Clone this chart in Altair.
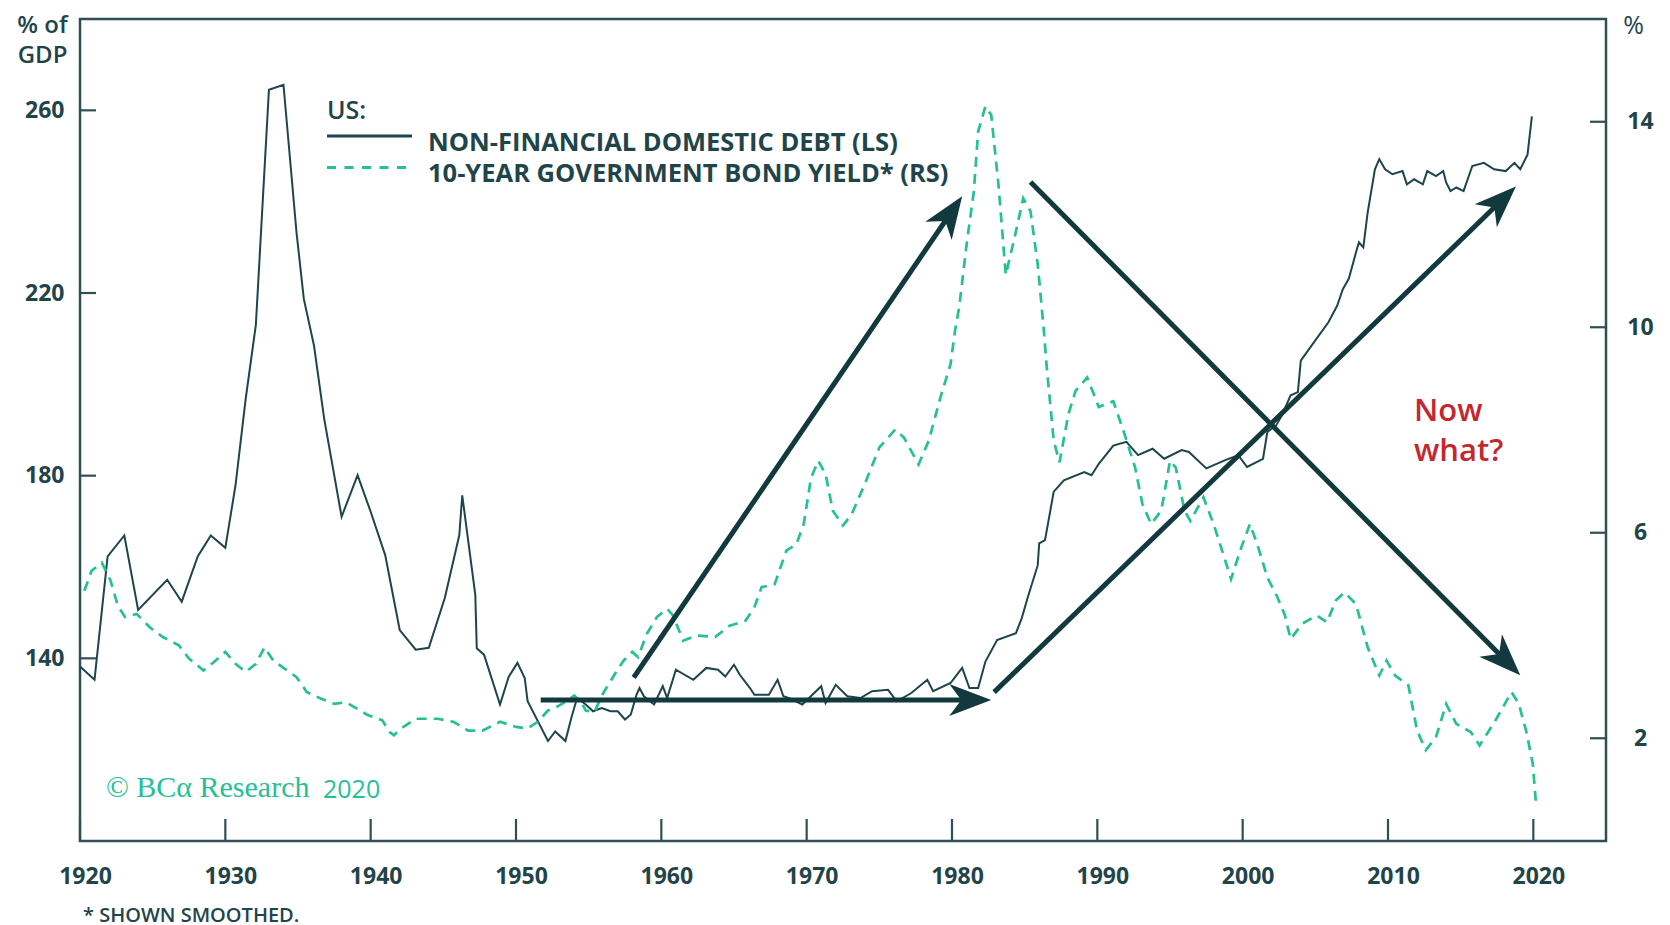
import math
import altair as alt
import pandas as pd

# ---------------- data ----------------
debt_year = [1920.0, 1921.0, 1921.9, 1923.05, 1924.0, 1926.0, 1927.0, 1928.1, 1929.0, 1930.0,
             1930.7, 1931.4, 1932.1, 1933.0, 1934.0, 1934.9, 1935.4, 1936.1, 1936.8, 1938.0,
             1939.1, 1940.0, 1941.0, 1942.0, 1943.1, 1944.0, 1945.1, 1946.1, 1946.3, 1947.2,
             1947.3, 1947.8, 1948.9, 1949.5, 1950.1, 1950.6, 1950.8, 1952.2, 1952.7, 1953.4,
             1953.8, 1954.2, 1954.8, 1955.3, 1955.9, 1956.5, 1957.0, 1957.5, 1957.9, 1958.3,
             1958.5, 1958.8, 1959.5, 1960.1, 1960.4, 1961.0, 1962.2, 1963.1, 1963.9, 1964.4,
             1965.0, 1965.4, 1966.1, 1966.4, 1967.4, 1968.0, 1968.4, 1968.8, 1969.7, 1971.0,
             1971.3, 1972.0, 1972.8, 1973.7, 1974.5, 1975.6, 1976.2, 1977.2, 1978.3, 1978.7,
             1979.9, 1980.7, 1981.2, 1981.8, 1982.3, 1983.1, 1984.4, 1984.8, 1985.2, 1985.9,
             1986.0, 1986.4, 1987.0, 1987.7, 1989.1, 1989.6, 1990.1, 1991.1, 1992.0, 1992.8,
             1993.8, 1994.6, 1995.8, 1996.3, 1997.5, 1998.8, 1999.7, 2000.3, 2001.4, 2001.7,
             2002.3, 2002.7, 2003.3, 2003.8, 2004.0, 2004.9, 2005.9, 2006.5, 2006.9, 2007.3,
             2007.8, 2008.0, 2008.3, 2008.6, 2009.1, 2009.4, 2009.8, 2010.3, 2011.0, 2011.3,
             2011.8, 2012.4, 2012.7, 2013.3, 2013.8, 2014.0, 2014.3, 2014.7, 2015.2, 2015.8,
             2016.6, 2017.3, 2018.1, 2018.7, 2019.1, 2019.6, 2019.9]
debt_value = [138.2, 135.3, 162.3, 166.9, 150.6, 157.2, 152.4, 162.3, 166.9, 164.2,
              177.9, 196.8, 213.0, 264.5, 265.6, 233.2, 218.7, 208.5, 192.5, 171.0,
              180.1, 172.1, 162.6, 146.2, 141.9, 142.3, 153.2, 167.0, 175.7, 153.9,
              142.2, 140.8, 129.9, 136.0, 139.0, 135.7, 130.6, 121.9, 124.0, 121.9,
              126.9, 131.3, 129.9, 128.4, 129.1, 128.4, 128.4, 126.6, 127.7, 132.1,
              133.5, 131.7, 129.9, 133.9, 131.3, 137.5, 135.3, 137.9, 137.5, 136.0,
              138.6, 136.4, 133.5, 132.0, 132.0, 135.3, 131.7, 131.3, 129.9, 133.9,
              130.2, 134.2, 131.7, 131.3, 132.8, 133.1, 130.6, 132.4, 135.3, 132.8,
              134.6, 137.9, 133.5, 133.5, 139.3, 144.0, 145.5, 148.8, 153.2, 160.4,
              165.2, 165.9, 176.5, 179.0, 180.8, 180.1, 182.6, 186.6, 187.4, 184.5,
              185.9, 183.7, 185.6, 185.2, 181.6, 183.4, 184.5, 181.9, 183.7, 189.6,
              191.0, 193.2, 197.6, 198.3, 205.2, 209.2, 213.6, 217.2, 220.9, 223.1,
              228.9, 231.1, 230.0, 237.6, 247.1, 249.3, 247.1, 246.0, 246.7, 243.8,
              244.9, 243.8, 246.7, 245.6, 246.7, 244.2, 242.3, 243.1, 242.3, 247.8,
              248.5, 247.1, 246.7, 248.5, 247.1, 250.3, 258.7]

yield_year = [1920.3, 1920.8, 1921.5, 1922.1, 1922.6, 1923.1, 1923.9, 1924.8, 1925.7, 1926.8,
              1927.5, 1928.5, 1929.2, 1930.0, 1930.7, 1931.4, 1932.1, 1932.7, 1933.3, 1934.1,
              1934.9, 1935.6, 1936.6, 1937.5, 1938.3, 1939.1, 1939.8, 1940.8, 1941.3, 1941.6,
              1942.1, 1943.1, 1944.6, 1945.7, 1946.7, 1947.7, 1948.9, 1950.0, 1950.8, 1951.5,
              1952.2, 1952.6, 1953.6, 1954.0, 1954.5, 1954.8, 1955.4, 1955.9, 1956.8, 1957.4,
              1958.0, 1958.4, 1959.0, 1959.7, 1960.4, 1960.8, 1961.5, 1962.4, 1963.7, 1964.7,
              1965.8, 1966.4, 1966.9, 1967.8, 1968.6, 1969.3, 1969.8, 1970.3, 1970.8, 1971.3,
              1971.8, 1972.5, 1973.1, 1974.0, 1975.0, 1976.1, 1976.7, 1977.7, 1978.4, 1979.2,
              1979.9, 1980.2, 1980.5, 1981.0, 1981.5, 1981.8, 1982.3, 1982.7, 1983.2, 1983.7,
              1984.3, 1984.9, 1985.4, 1985.9, 1986.3, 1986.5, 1987.0, 1987.4, 1988.0, 1988.5,
              1989.3, 1990.1, 1991.1, 1991.8, 1992.6, 1993.1, 1993.7, 1994.4, 1995.0, 1995.4,
              1996.0, 1996.4, 1997.3, 1998.0, 1998.8, 1999.2, 1999.9, 2000.5, 2001.0, 2001.7,
              2002.4, 2002.9, 2003.3, 2004.1, 2005.1, 2005.8, 2006.4, 2007.0, 2007.8, 2008.6,
              2009.4, 2009.9, 2010.5, 2011.4, 2012.0, 2012.6, 2013.3, 2014.0, 2014.7, 2015.7,
              2016.3, 2017.4, 2018.5, 2019.0, 2019.5, 2019.96, 2020.2]
yield_value = [4.87, 5.26, 5.42, 5.07, 4.58, 4.36, 4.42, 4.16, 3.97, 3.81,
               3.55, 3.32, 3.48, 3.68, 3.45, 3.29, 3.45, 3.77, 3.51, 3.35,
               3.19, 2.90, 2.77, 2.67, 2.70, 2.57, 2.45, 2.35, 2.12, 2.06,
               2.19, 2.38, 2.38, 2.32, 2.15, 2.15, 2.32, 2.22, 2.19, 2.32,
               2.54, 2.58, 2.74, 2.83, 2.70, 2.54, 2.51, 2.83, 3.25, 3.51,
               3.68, 3.58, 4.03, 4.36, 4.52, 4.39, 3.90, 4.00, 3.97, 4.19,
               4.29, 4.55, 4.94, 5.00, 5.65, 5.78, 6.17, 7.07, 7.40, 7.14,
               6.43, 6.14, 6.36, 6.95, 7.66, 8.01, 7.85, 7.33, 7.79, 8.63,
               9.28, 9.92, 10.40, 11.60, 12.64, 13.81, 14.30, 14.13, 12.77, 11.02,
               11.74, 12.51, 12.26, 11.22, 10.00, 9.28, 7.79, 7.37, 8.30, 8.76,
               9.02, 8.45, 8.56, 7.98, 7.27, 6.56, 6.17, 6.43, 7.40, 7.27,
               6.43, 6.23, 6.69, 6.17, 5.46, 5.10, 5.71, 6.17, 5.78, 5.13,
               4.74, 4.40, 3.93, 4.23, 4.39, 4.26, 4.68, 4.84, 4.61, 3.77,
               3.22, 3.51, 3.22, 3.03, 2.15, 1.77, 2.02, 2.67, 2.28, 2.12,
               1.86, 2.35, 2.90, 2.67, 2.15, 1.51, 0.66]

x_ticks = [1920, 1930, 1940, 1950, 1960, 1970, 1980, 1990, 2000, 2010, 2020]
left_ticks = [140, 180, 220, 260]
right_ticks = [2, 6, 10, 14]

# annotation arrows (year, left-axis value)
arrow_x0 = [1951.7, 1958.1, 1985.4, 1982.9]
arrow_y0 = [130.9, 135.8, 244.3, 132.6]
arrow_x1 = [1982.7, 1980.7, 2019.1, 2018.8]
arrow_y1 = [130.9, 241.2, 136.3, 243.3]

legend_title = "US:"
series_labels = ["NON-FINANCIAL DOMESTIC DEBT (LS)", "10-YEAR GOVERNMENT BOND YIELD* (RS)"]
left_title = ["% of", "GDP"]
right_title = "%"
now_what = ["Now", "what?"]
copyright_a = "© BCα Research"
copyright_b = "2020"
footnote = "* SHOWN SMOOTHED."

# ---------------- style ----------------
W, H = 1526, 822
X_DOM, YL_DOM, YR_DOM = [1920, 2025], [100, 280], [0, 16]
DARK = "#12393e"
TEXT = "#1f454b"
LINE_DARK = "#1d454b"
FRAME = "#2d4f55"
GREEN = "#26c095"
RED = "#c4272d"
FONT = "Open Sans"

xscale = alt.Scale(domain=X_DOM, nice=False, zero=False)
ylscale = alt.Scale(domain=YL_DOM, nice=False, zero=False)
yrscale = alt.Scale(domain=YR_DOM, nice=False, zero=False)

common_axis = dict(ticks=False, domain=False, grid=False,
                   labelFont=FONT, labelFontSize=23, labelFontWeight=700, labelColor=TEXT,
                   titleFont=FONT, titleColor=TEXT)

xaxis = alt.Axis(values=x_ticks, format="d", title=None, labelPadding=35,
                 labelBaseline="middle", labelOffset=5, labelFlush=False,
                 labelOverlap=False, **common_axis)
ylaxis = alt.Axis(orient="left", values=left_ticks, title=left_title, titleAngle=0,
                  titleAlign="center", titleBaseline="top", titleX=-38, titleY=-6,
                  titleFontSize=24, titleFontWeight=600, titleLineHeight=30,
                  labelPadding=16, **common_axis)
yraxis = alt.Axis(orient="right", values=right_ticks, title=right_title, titleAngle=0,
                  titleAlign="center", titleBaseline="top", titleX=27, titleY=-6,
                  titleFontSize=25, titleFontWeight=400, labelAlign="center",
                  labelPadding=34, **common_axis)

# ---------------- tables ----------------
debt_df = pd.DataFrame({"year": debt_year, "value": debt_value})
yield_df = pd.DataFrame({"year": yield_year, "value": yield_value})
xt_df = pd.DataFrame({"year": x_ticks})
lt_df = pd.DataFrame({"value": left_ticks})
rt_df = pd.DataFrame({"value": right_ticks})

pxx = W / (X_DOM[1] - X_DOM[0])
pxy = H / (YL_DOM[1] - YL_DOM[0])
rows = []
for x0, y0, x1, y1 in zip(arrow_x0, arrow_y0, arrow_x1, arrow_y1):
    dx = (x1 - x0) * pxx
    dy = (y1 - y0) * pxy
    L = math.hypot(dx, dy)
    f = 24.0 / L
    rows.append({"year": x0, "y0": y0, "x1": x1, "y1": y1,
                 "xe": x1 - (x1 - x0) * f, "ye": y1 - (y1 - y0) * f,
                 "ang": math.degrees(math.atan2(dx, dy))})
arrow_df = pd.DataFrame(rows)
one = pd.DataFrame({"k": [0]})


def X(field):
    # every layer carries the same x axis definition so that they merge cleanly
    return alt.X(field, scale=xscale, axis=xaxis)


# ---------------- marks ----------------
debt = alt.Chart(debt_df).mark_line(color=LINE_DARK, strokeWidth=2).encode(
    x=X("year:Q"),
    y=alt.Y("value:Q", scale=ylscale, axis=ylaxis))

yld = alt.Chart(yield_df).mark_line(color=GREEN, strokeWidth=2.7, strokeDash=[10, 7]).encode(
    x=X("year:Q"),
    y=alt.Y("value:Q", scale=yrscale, axis=yraxis))

x_tick_marks = alt.Chart(xt_df).mark_rule(color=FRAME, strokeWidth=2.2).encode(
    x=X("year:Q"),
    y=alt.value(H), y2=alt.value(H - 22))

l_tick_marks = alt.Chart(lt_df).mark_rule(color=FRAME, strokeWidth=2.2).encode(
    y=alt.Y("value:Q", scale=ylscale, axis=None),
    x=alt.value(0), x2=alt.value(16))

r_tick_marks = alt.Chart(rt_df).mark_rule(color=FRAME, strokeWidth=2.2).encode(
    y=alt.Y("value:Q", scale=yrscale, axis=None),
    x=alt.value(W - 16), x2=alt.value(W))

arrow_lines = alt.Chart(arrow_df).mark_rule(color=DARK, strokeWidth=5, strokeCap="butt").encode(
    x=X("year:Q"), x2="xe:Q",
    y=alt.Y("y0:Q", scale=ylscale, axis=None), y2="ye:Q")

HEAD = "M0,0L0.8,2.1L0,1.5L-0.8,2.1Z"
arrow_heads = alt.Chart(arrow_df).mark_point(
    shape=HEAD, size=1600, filled=True, color=DARK, opacity=1, strokeWidth=0).encode(
    x=alt.X("x1:Q", scale=xscale, axis=xaxis),
    y=alt.Y("y1:Q", scale=ylscale, axis=None),
    angle=alt.Angle("ang:Q", scale=None))


def txt(text, x, y, size, color=TEXT, weight=600, font=FONT, align="left",
        baseline="middle", line_height=None):
    kw = dict(font=font, fontSize=size, fontWeight=weight, color=color,
              align=align, baseline=baseline)
    if line_height is not None:
        kw["lineHeight"] = line_height
    return alt.Chart(one).mark_text(**kw).encode(
        x=alt.value(x), y=alt.value(y), text=alt.value(text))


leg_solid = alt.Chart(one).mark_rule(color=LINE_DARK, strokeWidth=2.8).encode(
    x=alt.value(247), x2=alt.value(332), y=alt.value(117))
leg_dash = alt.Chart(one).mark_rule(color=GREEN, strokeWidth=2.8, strokeDash=[9, 8.5]).encode(
    x=alt.value(247), x2=alt.value(332), y=alt.value(148.5))

texts = [
    txt(legend_title, 247, 92, 25),
    txt(series_labels[0], 348, 123.5, 25.5, weight=700),
    txt(series_labels[1], 348, 155, 25.5, weight=700),
    txt(now_what, 1334, 378, 31, color=RED, weight=600, baseline="top", line_height=40),
    txt(copyright_a, 26, 769, 30, color=GREEN, weight=400, font="Liberation Serif"),
    txt(copyright_b, 243, 771, 25, color=GREEN, weight=400),
    txt(footnote, 3, 897, 20),
]

chart = alt.layer(
    debt, yld, x_tick_marks, l_tick_marks, r_tick_marks, arrow_lines, arrow_heads,
    leg_solid, leg_dash, *texts
).resolve_scale(y="independent").properties(
    width=W, height=H,
    autosize=alt.AutoSizeParams(type="none"),
    padding={"left": 72, "top": 11, "right": 56, "bottom": 86},
    background="white",
).configure_view(stroke=FRAME, strokeWidth=2.5)

chart.save("out.html", embed_options={"renderer": "svg", "actions": False})
